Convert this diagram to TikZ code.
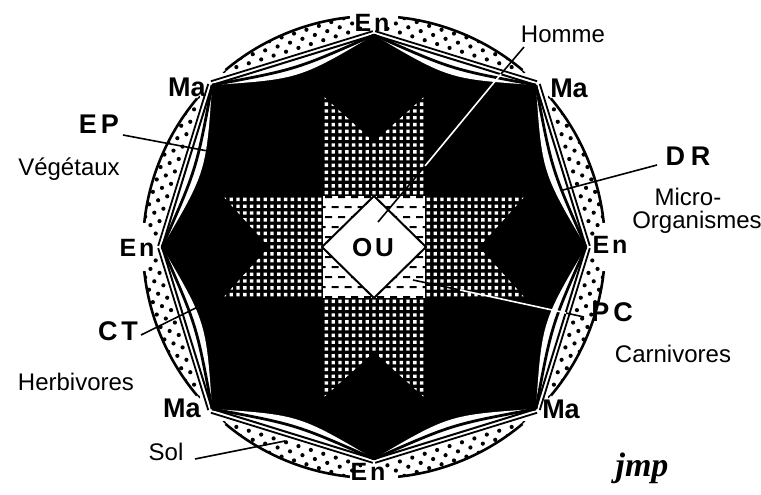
\documentclass[tikz,border=0pt]{standalone}
\usepackage{fontspec}
\setmainfont{Liberation Sans}
\newfontfamily\sigfont{Liberation Serif}
\begin{document}
\begin{tikzpicture}[x=1pt,y=-1pt,line join=round,
  lab/.style={font=\fontsize{24}{24}\selectfont, inner sep=0pt, anchor=base},
  blab/.style={font=\bfseries\fontsize{27}{27}\selectfont, inner sep=0pt, anchor=base},
  enlab/.style={font=\bfseries\fontsize{25}{25}\selectfont, inner sep=0pt, anchor=base},
  conn/.style={line width=1.6pt, black},
  connw/.style={line width=1.6pt, white}]
\fill[white] (0,0) rectangle (761,495);
\useasboundingbox (0,0) rectangle (761,495);

\begin{scope}[shift={(374,247)}]
 % black octagon
 \fill (0:212) -- (45:229) -- (90:212) -- (135:229) -- (180:212) -- (225:229) -- (270:212) -- (315:229) -- cycle;
 % eight ring segments
 \foreach \r in {0,90,180,270}{
  \foreach \s in {1,-1}{
   \begin{scope}[rotate=\r,yscale=\s]
    \fill[white] (212,0) -- (161.93,161.93) .. controls (167.9,75.1) .. (212,0) -- cycle;
    \draw[line width=2.8pt] (212,0) .. controls (177.5,78.0) .. (161.93,161.93);
    \draw[line width=2pt] (212,0) -- (161.93,161.93);
    \begin{scope}
      \clip (0,0) circle (231);
      \clip (0,0) -- (3:300) -- (42:300) -- cycle;
      \clip (230.6,-46.6) -- (151.0,210.9) -- (246.5,240.4) -- (326.1,-17.1) -- cycle;
      \foreach \a in {0,...,14}{
        \foreach \b in {0,1,2}{
          \pgfmathsetmacro\ss{\a*13+mod(\b,2)*6.5-2}
          \pgfmathsetmacro\tt{6+\b*7.5}
          \fill ({215.82-0.2954*\ss+0.9553*\tt},{1.18+0.9553*\ss+0.2954*\tt}) circle (2.1);
        }
      }
    \end{scope}
    \draw[line width=2.6pt] (6:231) arc[start angle=6,end angle=40,radius=231];
    \draw[line width=1.8pt] (215.82,1.18) -- (165.75,163.11);
   \end{scope}
  }
 }
 % dotted cross
 \begin{scope}
  \clip (-52,152) -- (0,105) -- (52,152) -- (52,52) -- (152,52) -- (105,0) -- (152,-52) -- (52,-52) -- (52,-152) -- (0,-105) -- (-52,-152) -- (-52,-52) -- (-152,-52) -- (-105,0) -- (-152,52) -- (-52,52) -- cycle;
  \fill[white] \foreach \i in {-22,...,22}{ \foreach \j in {-22,...,22}{ ({\i*6.8-1.7},{\j*6.8-1.7}) rectangle +(3.4,3.4) } };
 \end{scope}
 % dashed centre square
 \fill[white] (-51,-51) rectangle (51,51);
 \begin{scope}
  \clip (-51,-51) rectangle (51,51);
  \fill \foreach \j in {-5,...,5}{ \foreach \i in {-5,...,5}{ ({\i*13+mod(\j+10,2)*6.5-3.5},{\j*10-1}) rectangle +(7,2) } };
 \end{scope}
 \filldraw[fill=white, line width=2pt] (-52,0) -- (0,-51) -- (52,0) -- (0,51) -- cycle;
 \node[blab,font=\bfseries\fontsize{26}{26}\selectfont] (ou) at (-1,9) {O\hspace{3pt}U};
\end{scope}

% labels
\node[blab] (ma1) at (187,97) {Ma};
\node[blab] (ma2) at (569,98) {Ma};
\node[blab] (ma3) at (182,417) {Ma};
\node[blab] (ma4) at (561,418) {Ma};
\node[enlab] (en1) at (372,32) {E\hspace{3pt}n};
\node[enlab] (en2) at (368,480) {E\hspace{3pt}n};
\node[enlab] (en3) at (137,256) {E\hspace{3pt}n};
\node[enlab] (en4) at (610,253) {E\hspace{3pt}n};
\node[blab] (ep) at (99,133) {E\hspace{4pt}P};
\node[blab] (dr) at (688,165) {D\hspace{6pt}R};
\node[blab] (ct) at (118,340) {C\hspace{4pt}T};
\node[blab] (pc) at (612,321) {P\hspace{4pt}C};
\node[lab] (homme) at (563,43) {Homme};
\node[lab] (veg) at (69,175) {Végétaux};
\node[lab] (micro) at (688,205) {Micro-};
\node[lab] (org) at (697,228) {Organismes};
\node[lab] (herb) at (76,390) {Herbivores};
\node[lab] (carn) at (673,362) {Carnivores};
\node[lab] (sol) at (166,460) {Sol};
\node[inner sep=0pt, anchor=base, font=\sigfont\bfseries\itshape\fontsize{34}{34}\selectfont] (sig) at (642,476) {jmp};

% connectors
\coordinate (hA) at (524,47);
\coordinate (hB) at (501,74);
\coordinate (hC) at (425,166);
\coordinate (hD) at (378,222);
\draw[conn] (hA) -- (hB);
\draw[connw] (hB) -- (hC);
\draw[conn] (hC) -- (hD);

\coordinate (pA) at (584,317);
\coordinate (pB) at (566,313);
\coordinate (pC) at (460,290);
\coordinate (pD) at (413,280);
\draw[conn] (pA) -- (pB);
\draw[connw] (pB) -- (pC);
\draw[conn] (pC) -- (pD);

\coordinate (epA) at (123,135);
\coordinate (epB) at (213,152);
\draw[conn] (epA) -- (epB);
\coordinate (drA) at (657,165);
\coordinate (drB) at (563,190);
\draw[conn] (drA) -- (drB);
\coordinate (ctA) at (141,335);
\coordinate (ctB) at (216,298);
\draw[conn] (ctA) -- (ctB);
\coordinate (solA) at (195,459);
\coordinate (solB) at (285,441);
\draw[conn] (solA) -- (solB);
\end{tikzpicture}
\end{document}
